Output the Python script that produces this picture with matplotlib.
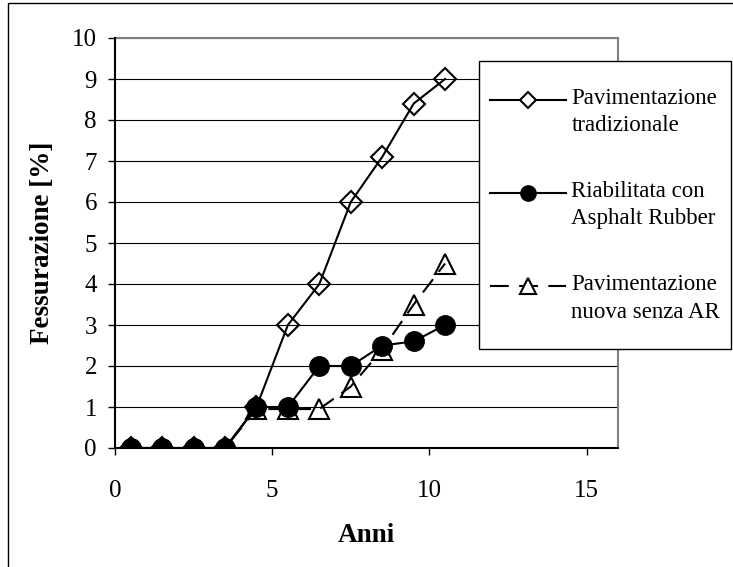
import matplotlib.pyplot as plt
from matplotlib.lines import Line2D
from matplotlib.patches import Rectangle
from matplotlib.legend_handler import HandlerLine2D

plt.rcParams['font.family'] = ['Liberation Serif', 'DejaVu Serif']

anni = [0.5, 1.5, 2.5, 3.5, 4.5, 5.5, 6.5, 7.5, 8.5, 9.5, 10.5]
tradizionale = [0, 0, 0, 0, 1, 3, 4, 6, 7.1, 8.4, 9]
riabilitata = [0, 0, 0, 0, 1, 1, 2, 2, 2.5, 2.6, 3]
nuova_senza_ar = [0, 0, 0, 0, 0.95, 0.95, 0.95, 1.5, 2.4, 3.5, 4.5]

etichette = ['Pavimentazione\ntradizionale',
             'Riabilitata con\nAsphalt Rubber',
             'Pavimentazione\nnuova senza AR']


class PrimaRiga(HandlerLine2D):
    # sposta il simbolo della legenda all'altezza della prima riga
    def create_artists(self, legend, orig_handle, xdescent, ydescent,
                       width, height, fontsize, trans):
        artisti = super().create_artists(legend, orig_handle, xdescent, ydescent,
                                         width, height, fontsize, trans)
        for a in artisti:
            a.set_ydata([y + 9 for y in a.get_ydata()])
        return artisti


W, H = 733, 567
fig = plt.figure(figsize=(W / 100, H / 100), dpi=100)
ax = fig.add_axes([115 / W, 1 - 448 / H, 503 / W, 410 / H])

# bordo esterno del grafico (tagliato a destra e in basso)
fig.patches.append(Rectangle((8 / W, -0.1), 1.2, 0.1 + 1 - 3 / H,
                             transform=fig.transFigure, fill=False,
                             edgecolor='black', lw=1.0))
# riquadro della legenda
fig.patches.append(Rectangle((479 / W, 1 - 349 / H), 252 / W, 288 / H,
                             transform=fig.transFigure, facecolor='white',
                             edgecolor='black', lw=1.0, zorder=2))

tratteggio = (0, (8, 4.5))

ax.plot(anni, tradizionale, color='black', lw=1.5, marker='D', ms=11,
        mfc='none', mec='black', mew=1.5, zorder=3)
ax.plot(anni, nuova_senza_ar, color='black', lw=1.5, ls=tratteggio,
        marker='^', ms=15, mfc='none', mec='black', mew=1.5, zorder=4)
ax.plot(anni, riabilitata, color='black', lw=1.5, marker='o', ms=14,
        mfc='black', mec='black', zorder=5)

ax.set_xlim(0, 16)
ax.set_ylim(0, 10)
ax.set_xticks([0, 5, 10, 15])
ax.set_yticks(range(0, 11))
ax.yaxis.grid(True, color='black', lw=0.8)
ax.set_axisbelow(True)

ax.spines['left'].set_color('black')
ax.spines['bottom'].set_color('black')
ax.spines['top'].set_color('#808080')
ax.spines['right'].set_color('#808080')
for s in ax.spines.values():
    s.set_linewidth(1.5)
ax.spines['left'].set_zorder(6)

ax.tick_params(axis='x', direction='out', length=5, width=1, labelsize=18, pad=18)
ax.tick_params(axis='y', direction='out', length=5, width=1, labelsize=18, pad=8)

ax.set_xlabel('Anni', fontsize=19.5, fontweight='bold', labelpad=15)
ax.set_ylabel('Fessurazione [%]', fontsize=19.5, fontweight='bold', labelpad=12)

maniglie = [
    Line2D([], [], color='black', lw=1.5, marker='D', ms=8, mfc='white', mec='black', mew=1.5),
    Line2D([], [], color='black', lw=1.5, marker='o', ms=11, mfc='black', mec='black'),
    Line2D([], [], color='black', lw=1.5, ls=(0, (9, 5)), marker='^', ms=11, mfc='white',
           mec='black', mew=1.5),
]
leg = fig.legend(maniglie, etichette, loc='upper left',
                 bbox_to_anchor=(490 / W, 1 - 88 / H),
                 fontsize=16.5, frameon=False, handlelength=3.3, handletextpad=0.25,
                 labelspacing=1.95, borderpad=0, borderaxespad=0, numpoints=1,
                 handler_map={Line2D: PrimaRiga()})
leg.set_zorder(6)
for t in leg.get_texts():
    t.set_linespacing(1.4)

fig.savefig('out.png', dpi=100)
